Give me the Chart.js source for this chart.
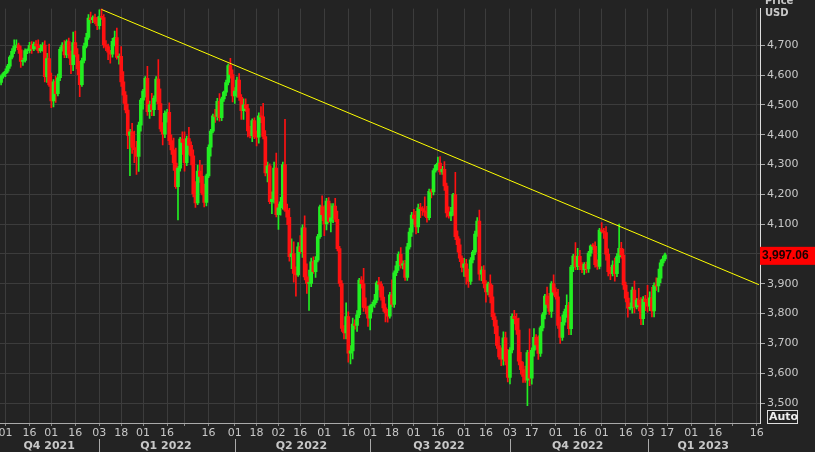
<!DOCTYPE html>
<html>
<head>
<meta charset="utf-8">
<script src="https://cdn.jsdelivr.net/npm/chart.js@4"></script>
<style>
  html, body { margin: 0; padding: 0; background: #232323; }
  #wrap { width: 815px; height: 452px; }
</style>
</head>
<body>
<div id="wrap"><canvas id="c" width="815" height="452"></canvas></div>
<script>
// daily closes, 28 Oct 2021 .. 13 Jan 2023
const closes = [
  4596, 4605,
  4613, 4630, 4660, 4680, 4697, 4701, 4685, 4646, 4649, 4682, 4682, 4700, 4688, 4704, 4698, 4682, 4690, 4701, 4595, 4655, 4567,
  4513, 4577, 4538, 4591, 4686, 4701, 4668, 4712, 4669, 4635, 4709, 4669, 4621, 4568, 4649, 4697, 4726, 4791, 4786, 4793, 4778, 4766,
  4797, 4793, 4701, 4696, 4677, 4670, 4713, 4726, 4659, 4663, 4577, 4533, 4483, 4398, 4410, 4357, 4350, 4327, 4432, 4516,
  4546, 4589, 4477, 4501, 4484, 4522, 4587, 4504, 4419, 4402, 4472, 4475, 4380, 4349, 4305, 4226, 4288, 4385, 4374,
  4306, 4387, 4364, 4329, 4201, 4171, 4278, 4260, 4204, 4173, 4262, 4358, 4412, 4463, 4461, 4512, 4457, 4520, 4543, 4575, 4632, 4602, 4530,
  4546, 4583, 4525, 4481, 4500, 4488, 4413, 4397, 4447, 4393, 4392, 4463, 4460, 4394, 4272, 4296, 4175, 4183, 4288, 4132,
  4155, 4175, 4300, 4147, 4123, 3991, 4001, 3935, 3930, 4024, 4008, 4088, 3923, 3901, 3901, 3974, 3941, 3979, 4058, 4158, 4132,
  4101, 4177, 4109, 4121, 4161, 4116, 4018, 3901, 3750, 3735, 3790, 3667, 3675, 3765, 3760, 3796, 3912, 3900, 3821, 3819, 3785,
  3825, 3831, 3845, 3903, 3899, 3855, 3819, 3802, 3791, 3863, 3831, 3937, 3960, 3999, 3962, 3967, 3921, 4024, 4073, 4130,
  4119, 4091, 4155, 4152, 4145, 4140, 4122, 4210, 4208, 4280, 4297, 4305, 4275, 4284, 4228, 4138, 4128, 4141, 4199, 4058, 4031, 3986, 3955,
  3967, 3924, 3908, 3980, 4006, 4067, 4110, 3932, 3946, 3901, 3873, 3900, 3856, 3790, 3758, 3693, 3655, 3647, 3719, 3640, 3586,
  3678, 3791, 3783, 3745, 3640, 3612, 3589, 3577, 3669, 3583, 3677, 3720, 3695, 3666, 3752, 3797, 3859, 3831, 3807, 3901, 3872,
  3856, 3760, 3720, 3771, 3807, 3828, 3749, 3956, 3993, 3957, 3992, 3959, 3947, 3965, 3950, 4003, 4027, 4026, 3964, 3958, 4080,
  4076, 4072, 3999, 3941, 3934, 3963, 3934, 3991, 4019, 3996, 3896, 3852, 3818, 3821, 3879, 3822, 3845, 3829, 3783, 3849, 3840,
  3825, 3853, 3809, 3895, 3893, 3919, 3970, 3983, 3997.06
];
const firstOpen = 4575;
// wick lengths above / below the body
const upWick = [
  5, 4,
  8, 6, 5, 9, 21, 17, 6, 12, 8, 6, 6, 10, 12, 7, 12, 20, 12, 8, 14, 18, 49,
  40, 8, 20, 12, 8, 8, 15, 6, 12, 12, 35, 39, 20, 25, 8, 10, 14, 12, 20, 6, 12, 16,
  22, 26, 10, 15, 8, 6, 10, 22, 32, 8, 33, 35, 12, 20, 8, 28, 55, 28, 10, 6,
  6, 6, 40, 12, 38, 8, 8, 65, 50, 22, 8, 10, 32, 20, 40, 50, 6, 6, 25,
  36, 8, 38, 12, 20, 42, 20, 36, 38, 30, 6, 8, 6, 6, 22, 10, 26, 6, 3, 8, 5, 24, 16,
  12, 10, 22, 10, 20, 20, 14, 15, 6, 10, 20, 10, 31, 45, 20, 12, 6, 25, 20, 50,
  12, 15, 8, 152, 20, 30, 50, 40, 22, 14, 38, 10, 40, 44, 45, 12, 16, 12, 8, 6, 37,
  30, 10, 12, 48, 8, 26, 28, 8, 10, 10, 46, 16, 18, 20, 14, 14, 6, 12, 52, 32, 6,
  4, 8, 20, 6, 19, 8, 36, 14, 12, 8, 50, 6, 15, 8, 22, 10, 12, 12, 14, 10,
  20, 24, 12, 15, 7, 47, 20, 8, 8, 6, 4, 20, 22, 10, 26, 10, 20, 15, 4, 75, 20, 20, 8,
  18, 15, 25, 8, 6, 10, 12, 37, 12, 15, 10, 6, 30, 40, 12, 20, 30, 30, 20, 19, 40,
  8, 8, 20, 17, 40, 30, 25, 35, 8, 80, 8, 30, 10, 30, 6, 6, 6, 30, 37, 6, 29,
  14, 25, 29, 25, 8, 35, 10, 6, 6, 45, 27, 20, 12, 6, 8, 6, 4, 8, 15, 16, 6,
  25, 10, 20, 18, 15, 14, 23, 10, 81, 20, 20, 10, 20, 15, 10, 30, 6, 40, 25, 8, 12,
  55, 20, 35, 8, 25, 30, 10, 10, 6
];
const downWick = [
  8, 6,
  10, 6, 8, 6, 8, 5, 12, 20, 14, 6, 10, 8, 15, 6, 12, 8, 6, 10, 18, 20, 5,
  22, 20, 30, 8, 10, 6, 10, 10, 12, 30, 20, 8, 20, 40, 6, 8, 6, 6, 12, 10, 6, 14,
  12, 6, 10, 14, 25, 30, 10, 15, 6, 22, 15, 28, 10, 45, 135, 20, 44, 60, 50, 20,
  30, 20, 12, 22, 20, 20, 10, 20, 8, 36, 12, 30, 13, 15, 25, 6, 112, 10, 40,
  28, 10, 30, 30, 10, 15, 6, 20, 6, 15, 12, 6, 30, 6, 20, 12, 12, 10, 8, 12, 8, 12, 20,
  25, 20, 10, 30, 30, 10, 20, 8, 20, 6, 30, 20, 20, 8, 10, 30, 6, 40, 13, 8,
  50, 25, 25, 4, 25, 15, 40, 30, 72, 5, 6, 20, 10, 33, 90, 11, 6, 20, 6, 6, 20,
  40, 20, 5, 35, 16, 8, 8, 10, 10, 20, 20, 30, 36, 27, 12, 20, 10, 15, 14, 20, 28,
  40, 20, 10, 8, 20, 10, 12, 30, 20, 6, 8, 10, 10, 15, 10, 12, 10, 10, 8, 14,
  20, 24, 20, 30, 16, 14, 15, 8, 20, 10, 6, 14, 8, 8, 15, 15, 8, 16, 12, 10, 25, 12, 15,
  30, 25, 20, 10, 10, 8, 8, 20, 22, 15, 35, 10, 20, 10, 25, 10, 8, 22, 20, 12, 15,
  22, 10, 18, 15, 12, 15, 20, 8, 86, 25, 20, 20, 15, 20, 10, 10, 15, 12, 10, 20, 10,
  8, 10, 20, 10, 10, 20, 20, 20, 15, 10, 10, 12, 10, 16, 14, 12, 10, 12, 8, 10, 8,
  6, 20, 20, 15, 20, 8, 25, 10, 20, 10, 15, 13, 30, 6, 20, 20, 6, 20, 20, 20, 30,
  20, 15, 20, 20, 15, 20, 15, 10, 6
];
const holidays = [
  '2021-11-25', '2021-12-24', '2022-01-17', '2022-02-21', '2022-04-15', '2022-05-30',
  '2022-06-20', '2022-07-04', '2022-09-05', '2022-11-24', '2022-12-26', '2023-01-02',
  '2023-01-16', '2023-02-20'
];
const tickDates = [
  '2021-11-01', '2021-11-16', '2021-12-01', '2021-12-16', '2022-01-03', '2022-01-18',
  '2022-02-01', '2022-02-16', '2022-03-01', '2022-03-16', '2022-04-01', '2022-04-18',
  '2022-05-02', '2022-05-16', '2022-06-01', '2022-06-16', '2022-07-01', '2022-07-18',
  '2022-08-01', '2022-08-16', '2022-09-01', '2022-09-16', '2022-10-03', '2022-10-17',
  '2022-11-01', '2022-11-16', '2022-12-01', '2022-12-16', '2023-01-03', '2023-01-17',
  '2023-02-01', '2023-02-16', '2023-03-01', '2023-03-16'
];
const hiddenTicks = ['2022-03-01', '2023-03-01'];
const quarters = [
  { label: 'Q4 2021', from: '2021-10-28', to: '2021-12-31' },
  { label: 'Q1 2022', from: '2022-01-03', to: '2022-03-31' },
  { label: 'Q2 2022', from: '2022-04-01', to: '2022-06-30' },
  { label: 'Q3 2022', from: '2022-07-01', to: '2022-09-30' },
  { label: 'Q4 2022', from: '2022-10-03', to: '2022-12-30' },
  { label: 'Q1 2023', from: '2023-01-03', to: '2023-03-17' }
];
const trendFrom = ['2022-01-04', 4820];
const trendTo = ['2023-03-17', 3897];
const yTicks = [3500, 3600, 3700, 3800, 3900, 4000, 4100, 4200, 4300, 4400, 4500, 4600, 4700];
const lastPrice = 3997.06;

// trading days
const dates = [];
for (let d = new Date(Date.UTC(2021, 9, 28)); d <= new Date(Date.UTC(2023, 2, 17)); d.setUTCDate(d.getUTCDate() + 1)) {
  const wd = d.getUTCDay();
  const s = d.toISOString().slice(0, 10);
  if (wd === 0 || wd === 6 || holidays.includes(s)) continue;
  dates.push(s);
}

const opens = closes.map((c, i) => i === 0 ? firstOpen : closes[i - 1]);
const bodies = closes.map((c, i) => [opens[i], c]);
const wicks = closes.map((c, i) => [Math.min(opens[i], c) - downWick[i], Math.max(opens[i], c) + upWick[i]]);
const colorOf = ctx => {
  const i = ctx.dataIndex;
  return closes[i] >= opens[i] ? '#22ee22' : '#ff1111';
};
const trend = dates.map(d => d === trendFrom[0] ? trendFrom[1] : d === trendTo[0] ? trendTo[1] : null);

const overlay = {
  id: 'overlay',
  afterDraw(chart) {
    const c = chart.ctx, x = chart.scales.x, a = chart.chartArea, y = chart.scales.y;
    c.save();
    // quarter row
    c.font = 'bold 11px "DejaVu Sans"';
    c.fillStyle = '#c8c8c8';
    c.textAlign = 'center';
    c.textBaseline = 'middle';
    quarters.forEach((q, k) => {
      const i0 = dates.indexOf(q.from), i1 = dates.indexOf(q.to);
      const p0 = x.getPixelForValue(i0), p1 = x.getPixelForValue(i1);
      c.fillText(q.label, (p0 + p1) / 2, a.bottom + 23);
      if (k > 0) {
        c.strokeStyle = '#aaaaaa';
        c.lineWidth = 1;
        c.beginPath();
        c.moveTo(Math.round(p0) + 0.5, a.bottom + 16);
        c.lineTo(Math.round(p0) + 0.5, chart.height);
        c.stroke();
      }
    });
    // header
    c.textAlign = 'left';
    c.font = 'bold 10px "DejaVu Sans"';
    c.fillText('Price', 765, 1);
    c.fillText('USD', 765, 13);
    // last price label
    const py = y.getPixelForValue(lastPrice);
    c.fillStyle = '#ff0000';
    c.fillRect(a.right, py - 8, chart.width - a.right, 18);
    c.fillStyle = '#1a0000';
    c.font = 'bold 12px "Liberation Sans"';
    c.fillText(lastPrice.toLocaleString('en-US', { minimumFractionDigits: 2 }), a.right + 2, py + 1);
    // Auto box
    c.strokeStyle = '#dddddd';
    c.strokeRect(767.5, 410.5, 30, 13);
    c.fillStyle = '#eeeeee';
    c.font = 'bold 11px "DejaVu Sans"';
    c.fillText('Auto', 769, 417);
    c.restore();
  }
};

new Chart(document.getElementById('c'), {
  data: {
    labels: dates,
    datasets: [
      { type: 'bar', data: wicks, backgroundColor: colorOf, barThickness: 1, grouped: false, order: 2 },
      { type: 'bar', data: bodies, backgroundColor: colorOf, barThickness: 3, grouped: false, order: 1, minBarLength: 1 },
      { type: 'line', data: trend, borderColor: '#ffff00', borderWidth: 1, pointRadius: 0, spanGaps: true, order: 0 }
    ]
  },
  options: {
    responsive: false,
    animation: false,
    events: [],
    layout: { padding: 0 },
    plugins: { legend: { display: false }, tooltip: { enabled: false } },
    scales: {
      x: {
        offset: true,
        grid: {
          offset: false,
          color: ctx => ctx.tick && tickDates.includes(dates[ctx.tick.value]) ? '#3c3c3c' : 'transparent',
          tickColor: ctx => ctx.tick && tickDates.includes(dates[ctx.tick.value]) ? '#888888' : 'transparent',
          tickLength: 3
        },
        border: { color: '#aaaaaa' },
        afterFit: s => { s.height = 29; },
        ticks: {
          autoSkip: false,
          maxRotation: 0,
          padding: 1,
          color: '#c8c8c8',
          font: { family: 'DejaVu Sans', size: 11 },
          callback: (v) => {
            const d = dates[v];
            return tickDates.includes(d) && !hiddenTicks.includes(d) ? d.slice(8) : '';
          }
        }
      },
      y: {
        position: 'right',
        min: 3433,
        max: 4823,
        afterFit: s => { s.width = 55; },
        afterBuildTicks: s => { s.ticks = yTicks.map(v => ({ value: v })); },
        grid: { color: '#3c3c3c', tickColor: '#aaaaaa', tickLength: 5 },
        border: { color: '#dddddd' },
        ticks: {
          padding: 2,
          color: '#c8c8c8',
          font: { family: 'DejaVu Sans', size: 11 },
          callback: v => v.toLocaleString('en-US')
        }
      }
    }
  },
  plugins: [overlay]
});
</script>
</body>
</html>
